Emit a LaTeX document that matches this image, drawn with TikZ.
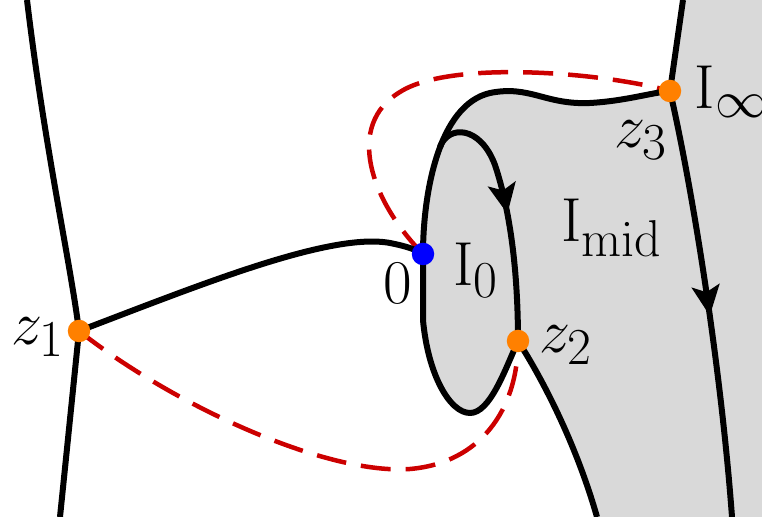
\documentclass[tikz,border=0pt]{standalone}
\usepackage{amsmath,amssymb}
\usepackage{tikz}
\usetikzlibrary{arrows.meta,decorations.markings}
\definecolor{RegionGray}{HTML}{D9D9D9}
\definecolor{CutRed}{HTML}{CC0000}
\definecolor{PointOrange}{HTML}{FF8000}
\definecolor{PointBlue}{HTML}{0000FF}

\begin{document}
\begin{tikzpicture}[x=0.4pt, y=-0.4pt, every node/.style={font=\fontsize{29}{34}\selectfont},
  curve/.style={line width=2.4pt, line join=round},
  cut/.style={CutRed, line width=1.8pt, dash pattern=on 12pt off 6pt},
  midarrow/.style={postaction={decorate}, decoration={markings, mark=at position #1 with {\arrow{Stealth[length=12pt,width=11pt,inset=2.5pt]}}}},
  ptdot/.style={circle, inner sep=0pt, minimum size=9pt, fill=#1}]
\clip (0,0) rectangle (762,517);
\coordinate (z1) at (79,331);
\coordinate (zero) at (423,254);
\coordinate (z2) at (518,341);
\coordinate (z3) at (670,91);
\coordinate (ltop) at (27,0);
\coordinate (lbot) at (60,517);
\coordinate (rtop) at (683,0);
\coordinate (rbot) at (732,517);
\coordinate (mbot) at (597,517);
\coordinate (join) at (440,147);
\coordinate (lowest) at (470,413);
\coordinate (crest) at (490,93);
% shaded region
\fill[RegionGray] (rtop) -- (762,0) -- (762,517) -- (mbot)
  .. controls (575,440) and (540,375) .. (z2)
  .. controls (505,370) and (490,413) .. (lowest)
  .. controls (450,413) and (428,375) .. (423,320) -- (zero)
  .. controls (423,195) and (438,105) .. (crest)
  .. controls (530,85) and (545,105) .. (590,103)
  .. controls (625,101) and (650,93) .. (z3) -- cycle;
% dashed cuts
\draw[cut] (z1) .. controls (180,410) and (330,475) .. (410,469) .. controls (480,463) and (518,410) .. (z2);
\draw[cut] (zero) .. controls (370,200) and (345,125) .. (400,92) .. controls (450,60) and (600,72) .. (z3);
% curves
\draw[curve] (ltop) .. controls (45,150) and (70,260) .. (z1) -- (lbot);
\draw[curve] (z1) .. controls (200,285) and (330,232) .. (390,243) .. controls (405,246) and (415,249) .. (zero);
\draw[curve] (z2) .. controls (505,370) and (490,413) .. (lowest)
  .. controls (450,413) and (428,375) .. (423,320) -- (zero)
  .. controls (423,195) and (438,105) .. (crest)
  .. controls (530,85) and (545,105) .. (590,103)
  .. controls (625,101) and (650,93) .. (z3);
\draw[curve] (z2) .. controls (540,375) and (575,440) .. (mbot);
\draw[curve, midarrow=0.5] (join) .. controls (448,125) and (480,125) .. (495,165) .. controls (510,210) and (518,270) .. (z2);
\draw[curve] (rtop) -- (z3);
\draw[curve, midarrow=0.53] (z3) .. controls (695,200) and (722,380) .. (rbot);
% points
\node[ptdot=PointOrange] (dz1) at (z1) {};
\node[ptdot=PointOrange] (dz2) at (z2) {};
\node[ptdot=PointOrange] (dz3) at (z3) {};
\node[ptdot=PointBlue] (dzero) at (zero) {};
% labels
\node (lblz1) at (38,337) {$z_1$};
\node (lblzero) at (398,283) {$0$};
\node (lblIzero) at (476,270) {$\mathrm{I}_0$};
\node (lblImid) at (612,228) {$\mathrm{I}_{\mathrm{mid}}$};
\node (lblz3) at (641,140) {$z_3$};
\node (lblz2) at (566,345) {$z_2$};
\node[anchor=west] (lblIinf) at (686,92) {$\mathrm{I}_\infty$};
\end{tikzpicture}
\end{document}
